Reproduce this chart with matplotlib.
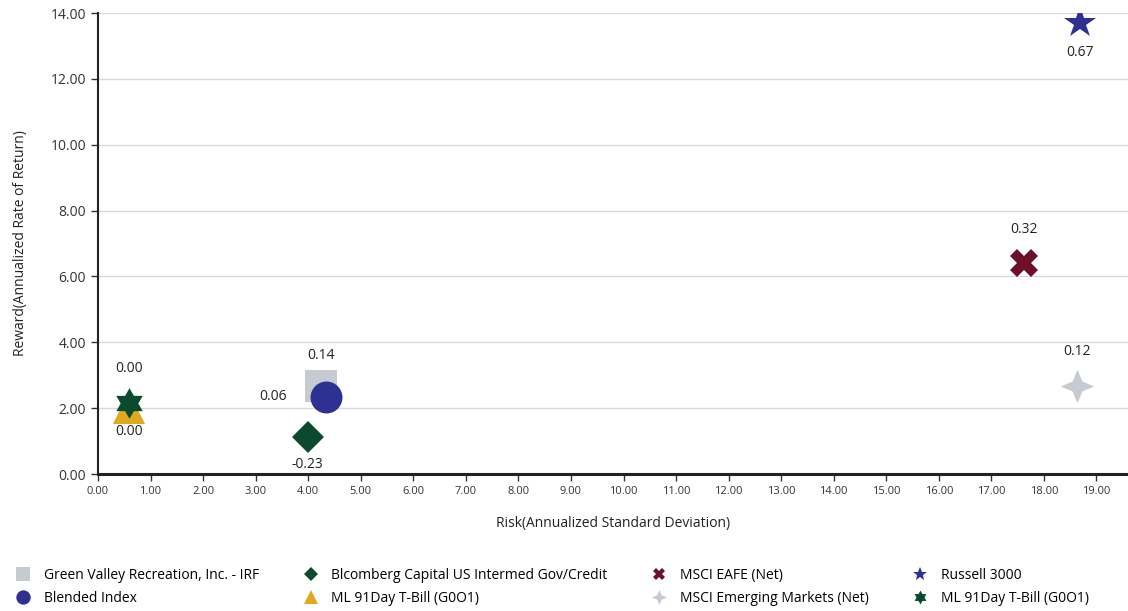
import matplotlib.pyplot as plt
from matplotlib.path import Path

# series (legend order)
names = [
    'Green Valley Recreation, Inc. - IRF',
    'Blended Index',
    'Blcomberg Capital US Intermed Gov/Credit',
    'ML 91Day T-Bill (G0O1)',
    'MSCI EAFE (Net)',
    'MSCI Emerging Markets (Net)',
    'Russell 3000',
    'ML 91Day T-Bill (G0O1)',
]
risk = [4.24, 4.33, 3.99, 0.59, 17.62, 18.63, 18.69, 0.59]
reward = [2.67, 2.34, 1.12, 2.00, 6.41, 2.67, 13.70, 2.16]
ratio_labels = ['0.14', '0.06', '-0.23', '0.00', '0.32', '0.12', '0.67', '0.00']

colors = ['#c5cbd0', '#2e3192', '#0b4a2f', '#e0a81c', '#6d0f28', '#c5cbd0', '#2e3192', '#0b4a2f']
star4 = Path.unit_regular_star(4, 0.42)
star6 = Path.unit_regular_star(6, 0.577)
markers = ['s', 'o', 'D', '^', 'X', star4, '*', star6]
sizes = [23, 23, 16, 23, 20, 24, 24, 22]
# label offsets in points
offsets = [(0, 22), (-38, 0), (0, -20), (0, -17), (0, 24), (0, 25), (0, -21), (0, 25)]

plt.rcParams['font.family'] = ['Open Sans', 'DejaVu Sans']

fig = plt.figure(figsize=(11.28, 6.11), dpi=100)
ax = fig.add_axes([0.0869, 0.2242, 0.9131, 0.7545])

for i in range(len(names)):
    ax.plot(risk[i], reward[i], linestyle='none', marker=markers[i], markersize=sizes[i],
            color=colors[i], markeredgewidth=0, label=names[i], zorder=3)
    ax.annotate(ratio_labels[i], (risk[i], reward[i]), xytext=offsets[i],
                textcoords='offset points', ha='center', va='center',
                fontsize=10, color='#222222')

ax.set_xlim(0, 19.6)
ax.set_ylim(0, 14)
ax.set_xticks(range(0, 20))
ax.set_yticks(range(0, 15, 2))
ax.set_xticklabels([f'{v:.2f}' for v in range(0, 20)], fontsize=8)
ax.set_yticklabels([f'{v:.2f}' for v in range(0, 15, 2)], fontsize=10)
ax.yaxis.grid(True, color='#d9d9d9', linewidth=1)
ax.set_axisbelow(True)
ax.tick_params(axis='both', colors='#333333', length=5, width=1)
ax.tick_params(axis='both', labelcolor='#333333')
for s in ['top', 'right']:
    ax.spines[s].set_visible(False)
ax.spines['left'].set_linewidth(1.5)
ax.spines['bottom'].set_linewidth(2.2)
ax.spines['left'].set_color('#222222')
ax.spines['bottom'].set_color('#222222')

ax.set_xlabel('Risk(Annualized Standard Deviation)', fontsize=10, color='#222222', labelpad=14)
ax.set_ylabel('Reward(Annualized Rate of Return)', fontsize=10, color='#222222', labelpad=16)

fig.legend(loc='lower left', bbox_to_anchor=(0.002, -0.012), ncol=4, frameon=False,
           fontsize=10, markerscale=0.45, handlelength=1.2, handletextpad=0.9,
           columnspacing=3.1, labelspacing=0.55)

fig.savefig('out.png', dpi=100)
